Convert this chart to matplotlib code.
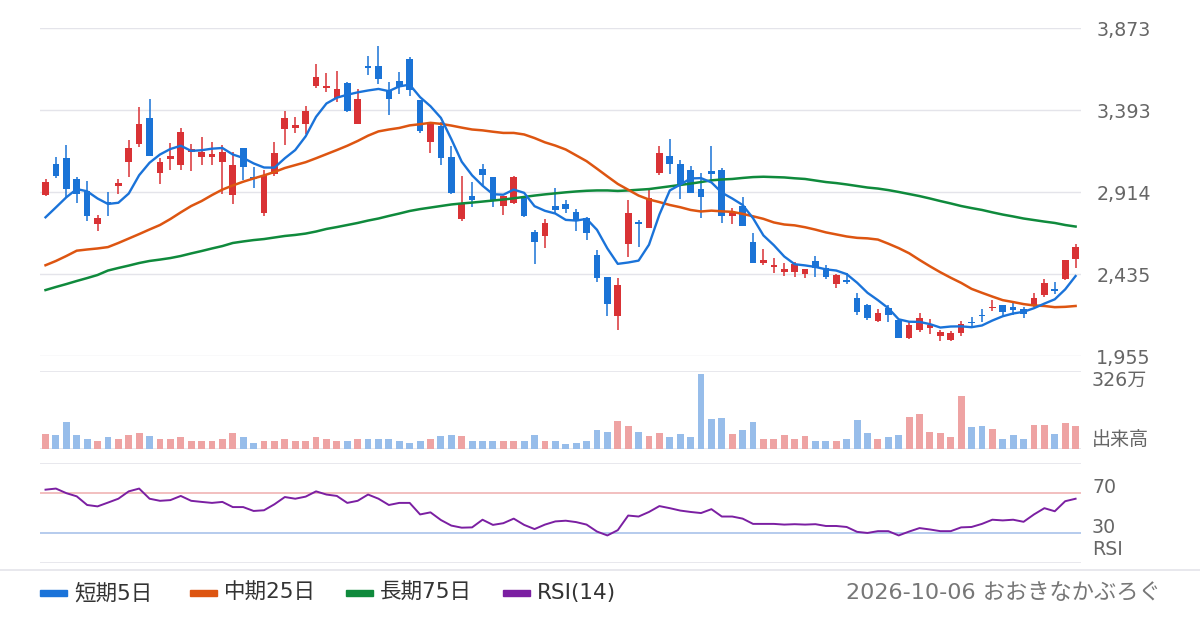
import matplotlib
matplotlib.use("Agg")
import matplotlib.pyplot as plt
from matplotlib.lines import Line2D
from matplotlib.patches import Rectangle

# 英数字は幅の広い DejaVu、日本語は Noto CJK に任せる
plt.rcParams['font.family'] = ['DejaVu Sans', 'Noto Sans CJK JP']

# ---- データ (100営業日) ----
opens = [2899, 3078, 3113, 2991, 2921, 2730, 2859, 2950, 3092, 3197,
         3347, 3028, 3109, 3074, 3150, 3121, 3121, 3092, 2899, 3170,
         3002, 2794, 3018, 3285, 3290, 3314, 3536, 3524, 3462, 3552,
         3314, 3651, 3651, 3509, 3561, 3692, 3452, 3209, 3302, 3119,
         2759, 2891, 3049, 3002, 2835, 2852, 2880, 2681, 2660, 2833,
         2845, 2798, 2763, 2547, 2418, 2192, 2613, 2741, 2706, 3028,
         3125, 3078, 3043, 2932, 3037, 3043, 2775, 2833, 2623, 2502,
         2478, 2449, 2449, 2438, 2510, 2471, 2379, 2401, 2298, 2253,
         2164, 2239, 2166, 2063, 2107, 2119, 2071, 2053, 2089, 2158,
         2198, 2237, 2253, 2241, 2230, 2247, 2312, 2346, 2408, 2522]
highs = [2989, 3121, 3189, 3001, 2981, 2780, 2913, 2991, 3219, 3411,
         3458, 3112, 3201, 3289, 3197, 3236, 3207, 3189, 3147, 3170,
         3063, 3043, 3207, 3388, 3353, 3417, 3663, 3610, 3622, 3558,
         3517, 3709, 3768, 3558, 3616, 3703, 3452, 3316, 3322, 3184,
         3008, 2973, 3078, 3002, 2891, 3008, 2891, 2693, 2757, 2938,
         2868, 2815, 2769, 2576, 2418, 2412, 2868, 2751, 2926, 3184,
         3224, 3102, 3067, 3026, 3184, 3055, 2821, 2886, 2675, 2584,
         2529, 2500, 2506, 2465, 2543, 2488, 2438, 2443, 2322, 2261,
         2234, 2253, 2166, 2158, 2206, 2174, 2107, 2103, 2162, 2182,
         2230, 2281, 2253, 2265, 2245, 2324, 2408, 2388, 2515, 2610]
lows = [2893, 2998, 2878, 2852, 2747, 2689, 2776, 2905, 3004, 3180,
        3127, 2963, 3043, 3043, 3037, 3074, 3074, 2905, 2847, 2985,
        2940, 2775, 3008, 3189, 3259, 3255, 3524, 3501, 3442, 3385,
        3310, 3598, 3547, 3365, 3487, 3477, 3261, 3143, 3074, 2901,
        2747, 2829, 2956, 2829, 2782, 2847, 2771, 2496, 2589, 2786,
        2794, 2689, 2636, 2391, 2192, 2110, 2537, 2595, 2706, 3016,
        3022, 2874, 2907, 2763, 2966, 2735, 2728, 2718, 2502, 2490,
        2443, 2426, 2420, 2414, 2420, 2408, 2356, 2379, 2199, 2166,
        2154, 2154, 2059, 2057, 2099, 2083, 2047, 2047, 2071, 2134,
        2158, 2217, 2190, 2198, 2178, 2241, 2303, 2318, 2402, 2471]
closes = [2971, 3010, 2932, 2905, 2775, 2763, 2851, 2967, 3172, 3314,
          3127, 3090, 3127, 3265, 3164, 3148, 3137, 3148, 3073, 3063,
          2991, 3014, 3143, 3347, 3306, 3388, 3587, 3534, 3517, 3390,
          3458, 3641, 3577, 3456, 3526, 3511, 3273, 3316, 3115, 2907,
          2851, 2870, 3016, 2868, 2891, 3002, 2775, 2624, 2734, 2811,
          2817, 2753, 2677, 2414, 2262, 2371, 2792, 2730, 2880, 3143,
          3077, 2960, 2911, 2887, 3022, 2775, 2792, 2718, 2502, 2518,
          2488, 2465, 2494, 2465, 2471, 2420, 2430, 2391, 2211, 2178,
          2206, 2196, 2063, 2140, 2176, 2138, 2099, 2093, 2144, 2150,
          2190, 2245, 2214, 2225, 2201, 2293, 2384, 2336, 2515, 2592]

ma5 = [2767, 2825, 2884, 2932, 2919, 2877, 2845, 2852, 2906, 3013,
       3086, 3134, 3166, 3185, 3155, 3159, 3168, 3172, 3134, 3114,
       3082, 3058, 3057, 3112, 3160, 3240, 3354, 3432, 3466, 3483,
       3497, 3508, 3517, 3504, 3532, 3542, 3469, 3416, 3348, 3224,
       3092, 3012, 2952, 2902, 2899, 2929, 2910, 2832, 2805, 2789,
       2752, 2748, 2758, 2694, 2585, 2495, 2503, 2514, 2607, 2783,
       2924, 2958, 2994, 2996, 2971, 2911, 2877, 2839, 2762, 2661,
       2604, 2538, 2493, 2486, 2477, 2463, 2456, 2435, 2385, 2326,
       2283, 2236, 2171, 2157, 2156, 2143, 2123, 2129, 2130, 2125,
       2135, 2164, 2189, 2205, 2215, 2236, 2263, 2288, 2346, 2424]
ma25 = [2487, 2512, 2541, 2572, 2579, 2585, 2593, 2617, 2643, 2669,
        2696, 2722, 2757, 2796, 2833, 2862, 2897, 2929, 2953, 2975,
        2994, 3012, 3032, 3055, 3072, 3089, 3112, 3136, 3160, 3185,
        3213, 3244, 3269, 3280, 3289, 3304, 3311, 3319, 3313, 3303,
        3291, 3280, 3275, 3267, 3260, 3260, 3251, 3230, 3205, 3186,
        3163, 3129, 3095, 3051, 3006, 2962, 2928, 2894, 2871, 2856,
        2839, 2826, 2810, 2801, 2806, 2802, 2799, 2787, 2773, 2758,
        2737, 2725, 2720, 2709, 2695, 2679, 2667, 2655, 2647, 2644,
        2637, 2613, 2587, 2557, 2518, 2481, 2446, 2414, 2384, 2349,
        2326, 2304, 2283, 2272, 2260, 2252, 2249, 2242, 2244, 2249]
ma75 = [2342, 2360, 2377, 2395, 2412, 2430, 2456, 2471, 2485, 2500,
        2512, 2520, 2529, 2541, 2556, 2570, 2585, 2599, 2617, 2626,
        2634, 2640, 2649, 2658, 2664, 2672, 2684, 2699, 2710, 2722,
        2734, 2748, 2760, 2775, 2789, 2804, 2815, 2824, 2833, 2842,
        2848, 2853, 2859, 2865, 2871, 2878, 2886, 2894, 2901, 2907,
        2913, 2918, 2922, 2924, 2924, 2921, 2924, 2928, 2932, 2940,
        2948, 2956, 2964, 2973, 2983, 2988, 2991, 2997, 3002, 3004,
        3002, 3000, 2995, 2991, 2982, 2973, 2967, 2959, 2950, 2941,
        2935, 2926, 2915, 2903, 2891, 2877, 2862, 2848, 2833, 2821,
        2810, 2796, 2783, 2772, 2760, 2751, 2742, 2734, 2722, 2713]

# 出来高 (万株)
volume = [64, 59, 118, 59, 45, 32, 50, 41, 59, 68,
          54, 45, 45, 50, 36, 36, 36, 45, 68, 50,
          27, 32, 36, 41, 36, 36, 50, 45, 36, 32,
          45, 41, 41, 41, 36, 27, 32, 41, 54, 59,
          54, 32, 36, 32, 36, 32, 36, 59, 36, 36,
          23, 27, 32, 82, 72, 122, 99, 72, 54, 68,
          50, 64, 50, 326, 131, 136, 64, 82, 118, 45,
          45, 59, 45, 54, 36, 36, 32, 41, 127, 68,
          45, 50, 59, 140, 154, 72, 68, 50, 231, 95,
          99, 86, 45, 59, 45, 104, 104, 64, 113, 99]

rsi = [73.5, 74.6, 70.0, 66.8, 58.1, 56.7, 60.5, 64.4, 71.8, 74.6,
       64.4, 62.3, 63.0, 67.2, 62.3, 61.2, 60.2, 61.2, 56.0, 56.0,
       52.1, 52.8, 58.8, 66.1, 64.4, 66.5, 71.8, 68.6, 67.2, 60.2,
       62.3, 68.6, 64.4, 58.1, 60.2, 60.2, 48.6, 50.7, 43.0, 37.4,
       35.3, 35.6, 43.3, 38.1, 39.8, 44.4, 38.1, 33.9, 38.4, 41.6,
       42.3, 40.9, 38.4, 31.4, 27.5, 32.8, 47.5, 46.5, 51.1, 57.0,
       54.9, 52.5, 51.1, 50.0, 53.9, 46.5, 46.5, 44.4, 39.1, 39.1,
       39.1, 38.4, 38.8, 38.4, 38.8, 37.0, 37.0, 36.0, 31.1, 30.0,
       31.8, 31.8, 27.5, 31.4, 34.9, 33.5, 31.8, 31.8, 35.6, 36.0,
       39.1, 43.3, 42.6, 43.3, 41.2, 48.6, 54.9, 51.8, 61.9, 64.4]

price_ticks = [1955, 2435, 2914, 3393, 3873]
legend_items = [("短期5日", "#1a73d9"), ("中期25日", "#dd5511"),
                ("長期75日", "#0f8a3c"), ("RSI(14)", "#7b1fa2")]
footer = "2026-10-06 おおきなかぶろぐ"

# ---- 色 ----
UP = "#d93235"
DOWN = "#1a73d6"
UP_V = "#eea3a3"
DOWN_V = "#97bdea"
GRID = "#e4e4ea"
LABEL = "#666666"

W, H = 1200, 630


def rect(left, top, right, bottom):
    return [left / W, 1 - bottom / H, (right - left) / W, (bottom - top) / H]


fig = plt.figure(figsize=(12, 6.3), dpi=100)
ax_p = fig.add_axes(rect(40, 28, 1081, 356.3))
ax_v = fig.add_axes(rect(40, 370.7, 1081, 448.8))
ax_r = fig.add_axes(rect(40, 463.3, 1081, 562.8))

n = len(closes)
xs = list(range(n))
for ax in (ax_p, ax_v, ax_r):
    ax.set_xlim(-0.53, 99.52)
    ax.set_xticks([])
    for s in ax.spines.values():
        s.set_visible(False)

# ローソク足
for i in xs:
    o, h, l, c = opens[i], highs[i], lows[i], closes[i]
    col = UP if c > o else DOWN
    ax_p.vlines(i, l, h, color=col, lw=1.1, zorder=2)
    body = max(abs(c - o), 5)
    ax_p.bar(i, body, bottom=min(o, c), width=0.64, color=col, zorder=2)

ax_p.plot(xs, ma75, color="#0f8a3c", lw=1.8, zorder=3)
ax_p.plot(xs, ma25, color="#dd5511", lw=1.8, zorder=3)
ax_p.plot(xs, ma5, color="#1a73d9", lw=1.7, zorder=4)

ax_p.set_ylim(price_ticks[0], price_ticks[-1])
ax_p.set_yticks(price_ticks)
ax_p.set_yticklabels([f"{t:,}" for t in price_ticks])
ax_p.yaxis.tick_right()
ax_p.tick_params(axis="y", length=0, pad=11, labelsize=13.7, labelcolor=LABEL)
ax_p.grid(axis="y", color=GRID, lw=1, zorder=0)

# 出来高
vcol = [UP_V if closes[i] > opens[i] else DOWN_V for i in xs]
ax_v.bar(xs, volume, width=0.66, color=vcol, zorder=2)
vmax = max(volume) * 1.05
ax_v.set_ylim(0, vmax)
ax_v.set_yticks([])
ax_v.axhline(0, color=GRID, lw=1.2, zorder=1)
ax_v.axhline(vmax, color=GRID, lw=1.2, zorder=1)
ax_v.text(1.0106, 1.0, f"{max(volume)}万", transform=ax_v.transAxes,
          ha="left", va="top", fontsize=13.7, color=LABEL)
ax_v.text(1.0106, 0.0, "出来高", transform=ax_v.transAxes,
          ha="left", va="bottom", fontsize=13.7, color=LABEL)

# RSI
ax_r.set_ylim(0, 100)
ax_r.set_yticks([])
ax_r.axhline(0, color=GRID, lw=1.2)
ax_r.axhline(100, color=GRID, lw=1.2)
ax_r.axhline(70, color="#f0b4b4", lw=1.2)
ax_r.axhline(30, color="#a9c2ea", lw=1.2)
ax_r.plot(xs, rsi, color="#7b1fa2", lw=1.4, zorder=3)
for val, txt in [(70, "70"), (30, "30"), (8, "RSI")]:
    ax_r.text(1.0106, val, txt, transform=ax_r.get_yaxis_transform(),
              ha="left", va="baseline", fontsize=13.7, color=LABEL)

# 凡例・フッター
fig.add_artist(Line2D([0, 1], [1 - 570 / H] * 2, color=GRID, lw=1.2))
ly = 1 - 593 / H
for (label, color), x0 in zip(legend_items, [40, 190, 346, 503]):
    fig.add_artist(Rectangle((x0 / W, ly - 3 / H), 27 / W, 6 / H,
                             color=color, transform=fig.transFigure))
    fig.text((x0 + 34) / W, ly, label, ha="left", va="center",
             fontsize=15.5, color="#333333")
fig.text(1161 / W, ly, footer, ha="right", va="center",
         fontsize=16, color="#777777")

fig.savefig("out.png", dpi=100)
